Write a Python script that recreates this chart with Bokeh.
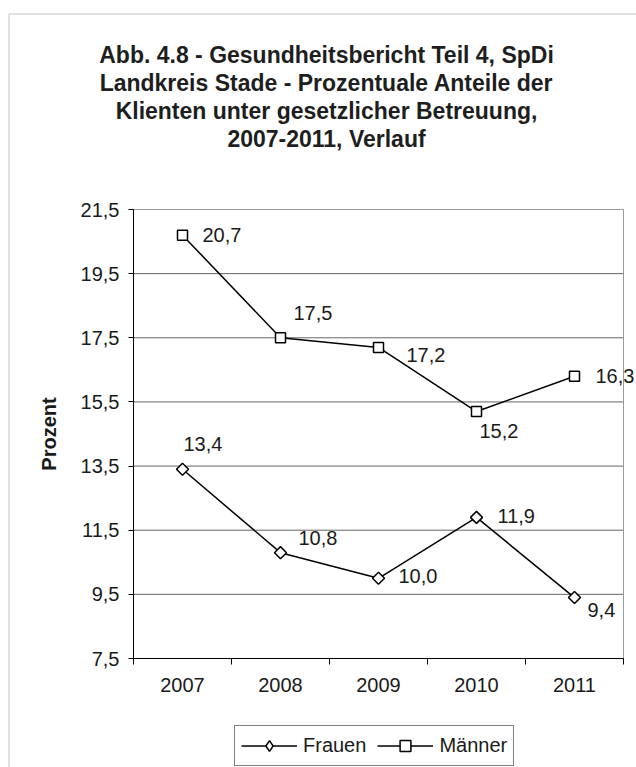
import numpy as np
from bokeh.plotting import figure
from bokeh.models import Range1d, FixedTicker, Label, BoxAnnotation, Legend, LegendItem
from bokeh.core.properties import value
from bokeh.embed import file_html
from bokeh.resources import INLINE

# ---------------- data ----------------
years = ["2007", "2008", "2009", "2010", "2011"]
frauen = [13.4, 10.8, 10.0, 11.9, 9.4]
maenner = [20.7, 17.5, 17.2, 15.2, 16.3]
y_ticks = [7.5, 9.5, 11.5, 13.5, 15.5, 17.5, 19.5, 21.5]
y_tick_labels = ["7,5", "9,5", "11,5", "13,5", "15,5", "17,5", "19,5", "21,5"]
series_names = ["Frauen", "Männer"]
y_axis_title = "Prozent"
title_lines = [
    "Abb. 4.8 - Gesundheitsbericht Teil 4, SpDi",
    "Landkreis Stade - Prozentuale Anteile der",
    "Klienten unter gesetzlicher Betreuung,",
    "2007-2011, Verlauf",
]

# data-label offsets in pixels (placement only)
frauen_dx = [1, 18, 20, 21, 13]
frauen_dy = [-25, -15, -2, -1, 12]
maenner_dx = [20, 13, 28, 3, 21]
maenner_dy = [0, -25, 8, 19, 0]

# ---------------- layout (pixels) ----------------
FONT = "Liberation Sans"
W, H = 636, 767
PA_LEFT, PA_RIGHT, PA_TOP, PA_BOTTOM = 133, 623, 209, 658   # plot area

n = len(years)
xs = [i + 0.5 for i in range(n)]
y0, y1 = y_ticks[0], y_ticks[-1]


def to_x(px):
    return (px - PA_LEFT) / (PA_RIGHT - PA_LEFT) * n


def to_y(py):
    return y1 - (py - PA_TOP) / (PA_BOTTOM - PA_TOP) * (y1 - y0)


def fmt(v):
    return f"{v:.1f}".replace(".", ",")


p = figure(
    x_range=Range1d(to_x(0), to_x(W)), y_range=Range1d(to_y(H), to_y(0)),
    frame_width=W, frame_height=H, min_border=0,
    output_backend="svg", toolbar_location=None,
    background_fill_color="white", border_fill_color="white",
)
p.title.visible = False
p.outline_line_color = None
p.xgrid.visible = False
p.ygrid.visible = False

# outer chart-area frame (left and top edges visible)
p.add_layout(BoxAnnotation(left=to_x(8.5), top=to_y(13.5), right=to_x(W + 50), bottom=to_y(H + 50),
                           fill_alpha=0, line_color="#333333", line_width=1, level="underlay"))

# horizontal gridlines of the plot area
inner = y_ticks[1:-1]
p.segment(x0=[0] * len(inner), x1=[n] * len(inner), y0=inner, y1=inner,
          line_color="#666666", line_width=1)
# plot area border (grey, top/right visible)
p.quad(left=[0], right=[n], bottom=[y0], top=[y1], fill_color=None,
       line_color="#9a9a9a", line_width=1)

# x axis at the bottom of the plot area
xa = p.xaxis[0]
xa.fixed_location = y0
xa.bounds = (0, n)
xa.ticker = FixedTicker(ticks=xs, minor_ticks=list(range(n + 1)))
xa.major_label_overrides = {x: y for x, y in zip(xs, years)}
xa.major_tick_out = 0
xa.major_tick_in = 0
xa.minor_tick_out = 6
xa.minor_tick_in = 0
xa.minor_tick_line_color = "black"
xa.axis_line_color = "black"
xa.major_label_standoff = 13
xa.major_label_text_font = FONT
xa.major_label_text_font_size = "20px"
xa.major_label_text_color = "#1a1a1a"

# y axis at the left of the plot area
ya = p.yaxis[0]
ya.fixed_location = 0
ya.bounds = (y0, y1)
ya.ticker = FixedTicker(ticks=y_ticks, minor_ticks=[])
ya.major_label_overrides = {t: s for t, s in zip(y_ticks, y_tick_labels)}
ya.major_tick_out = 5
ya.major_tick_in = 0
ya.major_tick_line_color = "black"
ya.minor_tick_line_color = None
ya.axis_line_color = "black"
ya.major_label_standoff = 9
ya.major_label_text_font = FONT
ya.major_label_text_font_size = "20px"
ya.major_label_text_color = "#1a1a1a"
ya.axis_label = y_axis_title
ya.axis_label_text_font = FONT
ya.axis_label_text_font_size = "20px"
ya.axis_label_text_font_style = "bold"
ya.axis_label_text_color = "#1a1a1a"
ya.axis_label_standoff = 18

# series
lf = p.line(xs, frauen, line_color="black", line_width=1.5)
sf = p.scatter(xs, frauen, marker="square", angle=np.pi / 4, size=8.5,
               fill_color="white", line_color="black", line_width=1.5)
lm = p.line(xs, maenner, line_color="black", line_width=1.5)
sm = p.scatter(xs, maenner, marker="square", size=10,
               fill_color="white", line_color="black", line_width=1.5)
# legend-only marker for Frauen (legend glyphs ignore marker rotation);
# its single point is NaN so it never shows inside the chart
sf_key = p.scatter(x=[float("nan")], y=[float("nan")], marker="diamond", size=12,
                   fill_color="white", line_color="black", line_width=1.5)

# data labels
for vals, dx, dy in ((frauen, frauen_dx, frauen_dy), (maenner, maenner_dx, maenner_dy)):
    p.text(x=xs, y=vals, text=[fmt(v) for v in vals], x_offset=dx, y_offset=dy,
           text_font=value(FONT), text_font_size="20px", text_color="#1a1a1a",
           text_align="left", text_baseline="middle")

# legend
legend = Legend(
    items=[LegendItem(label=series_names[0], renderers=[lf, sf_key]),
           LegendItem(label=series_names[1], renderers=[lm, sm])],
    orientation="horizontal", location=(234, 1),
    glyph_width=56, glyph_height=27, label_standoff=6, spacing=11,
    padding=6, margin=0, border_line_color="black", border_line_width=1,
    background_fill_color="white", background_fill_alpha=1,
    label_text_font=FONT, label_text_font_size="20px", label_text_color="#1a1a1a",
)
p.add_layout(legend)

# title lines
for i, line in enumerate(title_lines):
    p.add_layout(Label(x=to_x(326), y=to_y(54 + 28 * i), text=line, text_align="center",
                       text_baseline="alphabetic", text_font=FONT,
                       text_font_size="23px", text_font_style="bold",
                       text_color="#1e1e1e"))

open("out.html", "w").write(file_html(p, INLINE))
